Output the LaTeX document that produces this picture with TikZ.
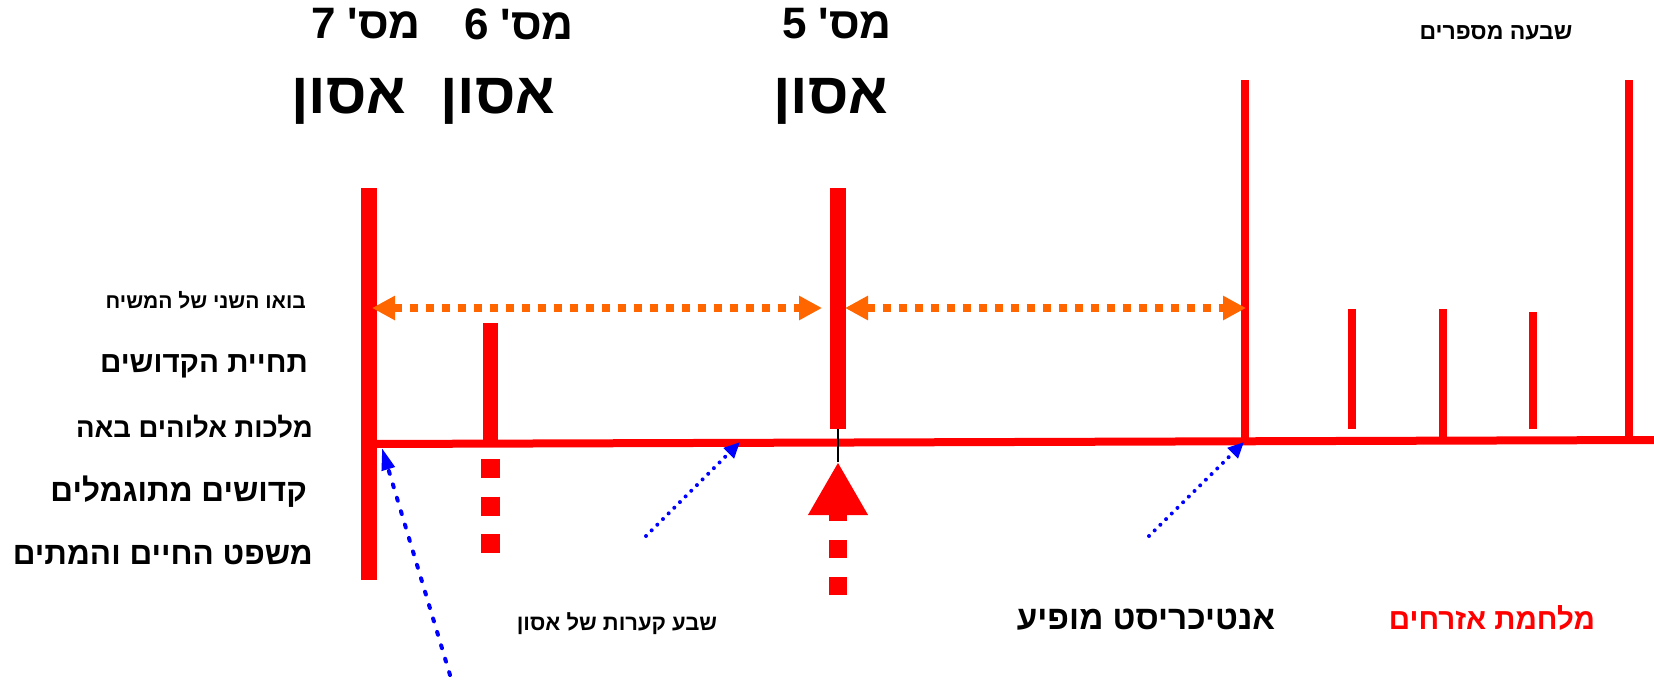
\documentclass[tikz,border=0pt]{standalone}
\usepackage{fontspec}
\newfontfamily\hebfont[Script=Hebrew]{Liberation Sans}
\TeXXeTstate=1
\usetikzlibrary{arrows.meta}
\definecolor{fire}{RGB}{255,0,0}
\definecolor{flame}{RGB}{255,102,0}
\definecolor{ink}{RGB}{0,0,255}
% Hebrew bold at a size in pt
\newcommand{\hb}[1]{\hebfont\bfseries\fontsize{#1}{#1}\selectfont}

\begin{document}
\begin{tikzpicture}[x=1pt,y=-1pt,
    bar/.style={draw=fire,line cap=butt},
    span/.style={draw=flame,line width=8pt,dash pattern=on 8pt off 8pt,
      {Triangle[length=23pt,width=23pt]}-{Triangle[length=23pt,width=23pt]}},
    hint/.style={draw=ink,line width=4pt,line cap=round,dash pattern=on 0pt off 8pt,
      -{Triangle[length=16pt,width=14pt]}},
    lbl/.style={inner sep=0pt}]
  \useasboundingbox (0,0) rectangle (1654,681);

  % points on the time line
  \coordinate (s7top) at (369,188);  \coordinate (s7bot) at (369,580);
  \coordinate (axisL) at (369,444);  \coordinate (axisR) at (1654,440);
  \coordinate (s6top) at (490,323);  \coordinate (s6bot) at (490,444);
  \coordinate (s5top) at (838,188);  \coordinate (s5bot) at (838,429);
  \coordinate (riseA) at (490,459);  \coordinate (riseB) at (490,553);
  \coordinate (upTail) at (838,595); \coordinate (upTip) at (838,462);
  \coordinate (wTop) at (1245,80);   \coordinate (wBot) at (1245,441);
  \coordinate (eTop) at (1629,80);   \coordinate (eBot) at (1629,440);

  % bars
  \draw[bar,line width=16pt] (s7top)--(s7bot);
  \draw[bar,line width=8pt] (axisL)--(axisR);
  \draw[bar,line width=15pt] (s6top)--(s6bot);
  \draw[bar,line width=16pt] (s5top)--(s5bot);
  \draw[bar,line width=8pt] (wTop)--(wBot);
  \draw[bar,line width=8pt] (eTop)--(eBot);
  \draw[bar,line width=8pt] (1352,309)--(1352,429);
  \draw[bar,line width=8pt] (1443,309)--(1443,441);
  \draw[bar,line width=8pt] (1533,312)--(1533,429);
  \draw[bar,line width=19pt,dash pattern=on 19pt off 18.5pt] (riseA)--(riseB);

  % big arrow under seal 5
  \draw[bar,line width=18pt,dash pattern=on 18pt off 19pt,
    -{Triangle[length=53pt,width=56pt]}] (upTail)--(upTip);
  \draw[line width=1.5pt] (upTip)--(s5bot);

  % spans
  \coordinate (spA) at (372,308); \coordinate (spB) at (822,308);
  \coordinate (spC) at (845,308); \coordinate (spD) at (1246,308);
  \draw[span] (spA)--(spB);
  \draw[span] (spC)--(spD);

  % hints
  \coordinate (hA) at (450,675); \coordinate (hA') at (382,448);
  \coordinate (hB) at (646,536); \coordinate (hB') at (740,442);
  \coordinate (hC) at (1149,536); \coordinate (hC') at (1244,442);
  \draw[hint,dash pattern=on 3pt off 11pt,-{Triangle[length=22pt,width=13pt]}] (hA)--(hA');
  \draw[hint] (hB)--(hB');
  \draw[hint] (hC)--(hC');

  % titles
  \node[lbl] (n7) at (366,24) {\hb{44}\beginR מס' 7\endR};
  \node[lbl] (n6) at (519,24) {\hb{44}\beginR מס' 6\endR};
  \node[lbl] (n5) at (837,24) {\hb{44}\beginR מס' 5\endR};
  \node[lbl] (a7) at (349,101) {\hb{58}\beginR אסון\endR};
  \node[lbl] (a6) at (498,101) {\hb{58}\beginR אסון\endR};
  \node[lbl] (a5) at (831,101) {\hb{58}\beginR אסון\endR};
  \node[lbl] (seven) at (1496,33) {\hb{23}\beginR שבעה מספרים\endR};

  % left labels
  \node[lbl,anchor=east] (come) at (306,300) {\hb{21}\beginR בואו השני של המשיח\endR};
  \node[lbl,anchor=east] (rise) at (308,366) {\hb{29.6}\beginR תחיית הקדושים\endR};
  \node[lbl,anchor=east] (king) at (313,427) {\hb{27.5}\beginR מלכות אלוהים באה\endR};
  \node[lbl,anchor=east] (prize) at (307,492) {\hb{31.5}\beginR קדושים מתוגמלים\endR};
  \node[lbl,anchor=east] (judge) at (313,555) {\hb{31.5}\beginR משפט החיים והמתים\endR};

  % bottom labels
  \node[lbl] (bowls) at (617,624) {\hb{22}\beginR שבע קערות של אסון\endR};
  \node[lbl] (anti) at (1146,620) {\hb{33.3}\beginR אנטיכריסט מופיע\endR};
  \node[lbl,text=fire] (war) at (1492,618) {\hb{29.5}\beginR מלחמת אזרחים\endR};
\end{tikzpicture}
\end{document}
